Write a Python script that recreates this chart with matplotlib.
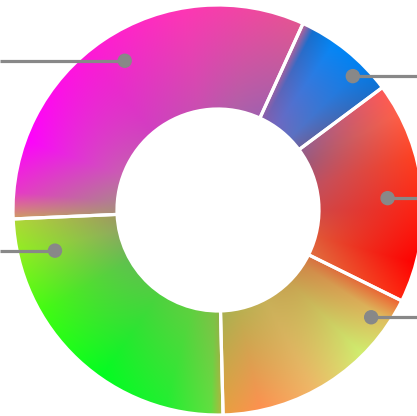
import numpy as np
import matplotlib
matplotlib.use('Agg')
import matplotlib.pyplot as plt
from matplotlib.colors import to_rgb

# Slice data (clockwise from the left)
categories = ['Magenta', 'Blue', 'Red', 'Orange', 'Green']
values = [32.5, 8.0, 17.5, 17.3, 24.7]

# Gradient stops per slice: (angle deg, inner colour, outer colour)
gradients = [
    [(65.5, '#a060b0', '#e05890'), (80, '#b060a8', '#f048a0'), (100, '#c850b0', '#ff35b5'),
     (130, '#d040c0', '#ff18d8'), (160, '#c860b0', '#ff00ff'), (175, '#b08090', '#e838c8'),
     (182.5, '#a89078', '#d0a060')],
    [(36.5, '#706098', '#1070d0'), (45, '#6070c0', '#0080f0'), (55, '#7068c0', '#0088f8'),
     (62, '#8060b0', '#1070d0'), (65.5, '#9060a8', '#d06090')],
    [(-26.5, '#e07040', '#ff2810'), (-15, '#e05838', '#ff0000'), (0, '#d04848', '#ff2010'),
     (15, '#c05060', '#ff4020'), (28, '#a05878', '#ff6048'), (36.5, '#906090', '#ff5858')],
    [(-88.5, '#a8b050', '#e8a040'), (-78, '#b8b050', '#ff9050'), (-62, '#c8b058', '#f0b868'),
     (-45, '#c8a050', '#d0f070'), (-33, '#d08848', '#e0c060'), (-26.5, '#d87040', '#f06030')],
    [(-177.5, '#a09860', '#b0d838'), (-168, '#90a860', '#90f020'), (-150, '#60c050', '#40ff10'),
     (-125, '#50d040', '#00ff20'), (-105, '#60d040', '#20f030'), (-92, '#80c048', '#60e040'),
     (-88.5, '#90b048', '#c0b040')],
]

# Leader tick dots (angle deg, radius px) and which side the line runs to
tick_angles = [122, 44.8, 4, -35, -166]
tick_radii = [176, 190, 170, 187, 168]
tick_sides = [-1, 1, 1, 1, -1]

W, H = 417, 416
cx, cy = 218, 206
R, r = 205, 101

fig = plt.figure(figsize=(W / 100, H / 100), dpi=100)
ax = fig.add_axes([0, 0, 1, 1])

wedges, _ = ax.pie(values, startangle=182.5, counterclock=False, center=(cx, cy), radius=R,
                   wedgeprops=dict(width=R - r, facecolor='none', edgecolor='white', linewidth=2.3),
                   frame=False)

# pixel grid for gradient images
xs = np.arange(W) + 0.5
ys = np.arange(H) + 0.5
X, Y = np.meshgrid(xs, ys)
ang = np.degrees(np.arctan2(Y - cy, X - cx))
rad = np.hypot(X - cx, Y - cy)
tr = np.clip((rad - r) / (R - r), 0, 1)[..., None]

for w, stops in zip(wedges, gradients):
    a0 = stops[0][0]
    a = (ang - a0) % 360 + a0
    sa = np.array([s[0] for s in stops])
    inner = np.array([to_rgb(s[1]) for s in stops])
    outer = np.array([to_rgb(s[2]) for s in stops])
    ci = np.stack([np.interp(a, sa, inner[:, k]) for k in range(3)], axis=-1)
    co = np.stack([np.interp(a, sa, outer[:, k]) for k in range(3)], axis=-1)
    img = ci * (1 - tr) + co * tr
    im = ax.imshow(img, extent=(0, W, 0, H), origin='lower', zorder=1, interpolation='bilinear')
    im.set_clip_path(w)
    w.set_zorder(3)

# leader lines with dots (labels fall outside the visible area)
for ta, tr_, side in zip(tick_angles, tick_radii, tick_sides):
    px = cx + tr_ * np.cos(np.radians(ta))
    py = cy + tr_ * np.sin(np.radians(ta))
    ax.plot([px, 0 if side < 0 else W], [py, py], color='#888888', lw=2.3,
            solid_capstyle='butt', zorder=4)
    ax.add_patch(plt.Circle((px, py), 6.5, color='#888888', zorder=5))

ax.set_xlim(0, W)
ax.set_ylim(0, H)
ax.set_aspect('auto')
ax.axis('off')

fig.savefig('out.png', dpi=100)
